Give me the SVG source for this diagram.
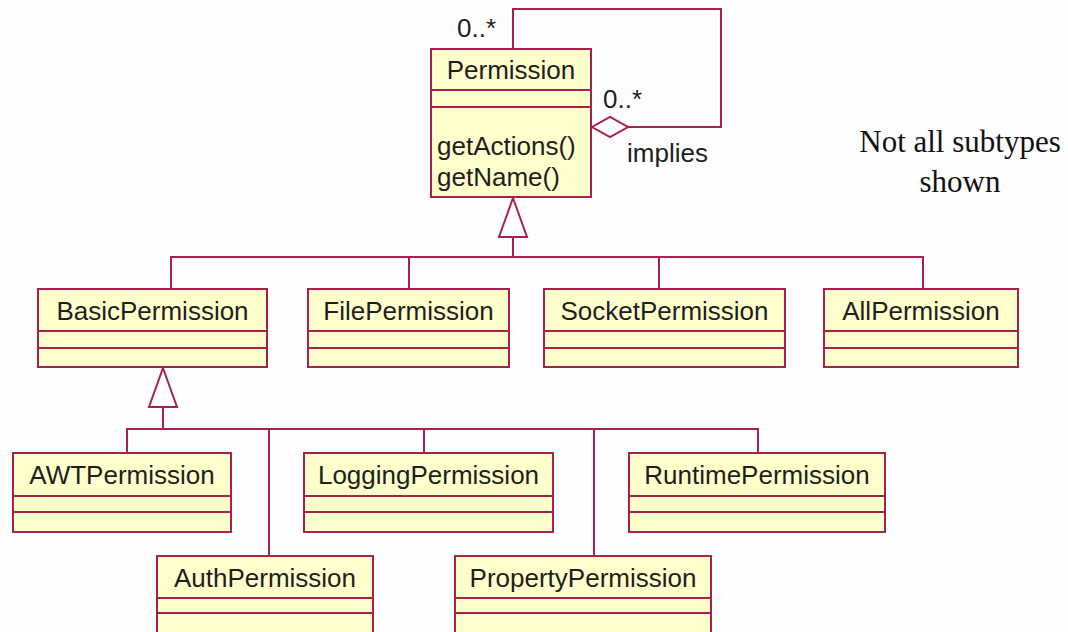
<svg xmlns="http://www.w3.org/2000/svg" width="1068" height="632" viewBox="0 0 1068 632">
<style>
.box{fill:#FFFFCC;stroke:#A8204E;stroke-width:2}
.ln{fill:none;stroke:#A8204E;stroke-width:2}
.tri{fill:#FFFFFF;stroke:#A8204E;stroke-width:2}
.t{font-family:"Liberation Sans",Arial,sans-serif;font-size:26px;fill:#1E1E1E}
.c{text-anchor:middle}
.note{font-family:"Liberation Serif","Times New Roman",serif;font-size:31px;fill:#111;text-anchor:middle}
</style>
<rect x="0" y="0" width="1068" height="632" fill="#FDFDFD"/>
<g id="connectors">
  <path class="ln" d="M513,49 V9 H721 V127 H628"/>
  <polygon class="tri" points="592,127 610,117 628,127 610,137"/>
  <polygon class="tri" points="513,198 527,237 499,237"/>
  <path class="ln" d="M513,237 V257 M171,289 V257 H923 V289 M409,257 V289 M659,257 V289"/>
  <polygon class="tri" points="163,368 177,407 149,407"/>
  <path class="ln" d="M163,407 V429 M127,453 V429 H758 V453 M269,429 V556 M424,429 V453 M594,429 V556"/>
</g>
<g id="labels">
  <text class="t" x="457" y="37">0..*</text>
  <text class="t" x="603" y="108">0..*</text>
  <text class="t" x="627" y="162">implies</text>
  <text class="note" x="960" y="152">Not all subtypes</text>
  <text class="note" x="960" y="192">shown</text>
</g>
<g id="Permission">
  <rect class="box" x="431" y="49" width="160" height="148"/>
  <path class="ln" d="M431,90 H591 M431,107 H591"/>
  <text class="t c" x="511" y="79">Permission</text>
  <text class="t" x="437" y="155">getActions()</text>
  <text class="t" x="437" y="186">getName()</text>
</g>
<g id="BasicPermission">
  <rect class="box" x="38" y="289" width="229" height="78"/>
  <path class="ln" d="M38,331 H267 M38,348 H267"/>
  <text class="t c" x="152.5" y="320">BasicPermission</text>
</g>
<g id="FilePermission">
  <rect class="box" x="308" y="289" width="201" height="78"/>
  <path class="ln" d="M308,331 H509 M308,348 H509"/>
  <text class="t c" x="408.5" y="320">FilePermission</text>
</g>
<g id="SocketPermission">
  <rect class="box" x="544" y="289" width="241" height="78"/>
  <path class="ln" d="M544,331 H785 M544,348 H785"/>
  <text class="t c" x="664.5" y="320">SocketPermission</text>
</g>
<g id="AllPermission">
  <rect class="box" x="824" y="289" width="194" height="78"/>
  <path class="ln" d="M824,331 H1018 M824,348 H1018"/>
  <text class="t c" x="921" y="320">AllPermission</text>
</g>
<g id="AWTPermission">
  <rect class="box" x="13" y="453" width="218" height="79"/>
  <path class="ln" d="M13,496 H231 M13,512 H231"/>
  <text class="t c" x="122" y="484">AWTPermission</text>
</g>
<g id="LoggingPermission">
  <rect class="box" x="304" y="453" width="249" height="79"/>
  <path class="ln" d="M304,496 H553 M304,512 H553"/>
  <text class="t c" x="428.5" y="484">LoggingPermission</text>
</g>
<g id="RuntimePermission">
  <rect class="box" x="629" y="453" width="256" height="79"/>
  <path class="ln" d="M629,496 H885 M629,512 H885"/>
  <text class="t c" x="757" y="484">RuntimePermission</text>
</g>
<g id="AuthPermission">
  <rect class="box" x="157" y="556" width="216" height="90"/>
  <path class="ln" d="M157,598 H373 M157,613 H373"/>
  <text class="t c" x="265" y="587">AuthPermission</text>
</g>
<g id="PropertyPermission">
  <rect class="box" x="455" y="556" width="256" height="90"/>
  <path class="ln" d="M455,598 H711 M455,613 H711"/>
  <text class="t c" x="583" y="587">PropertyPermission</text>
</g>
</svg>
